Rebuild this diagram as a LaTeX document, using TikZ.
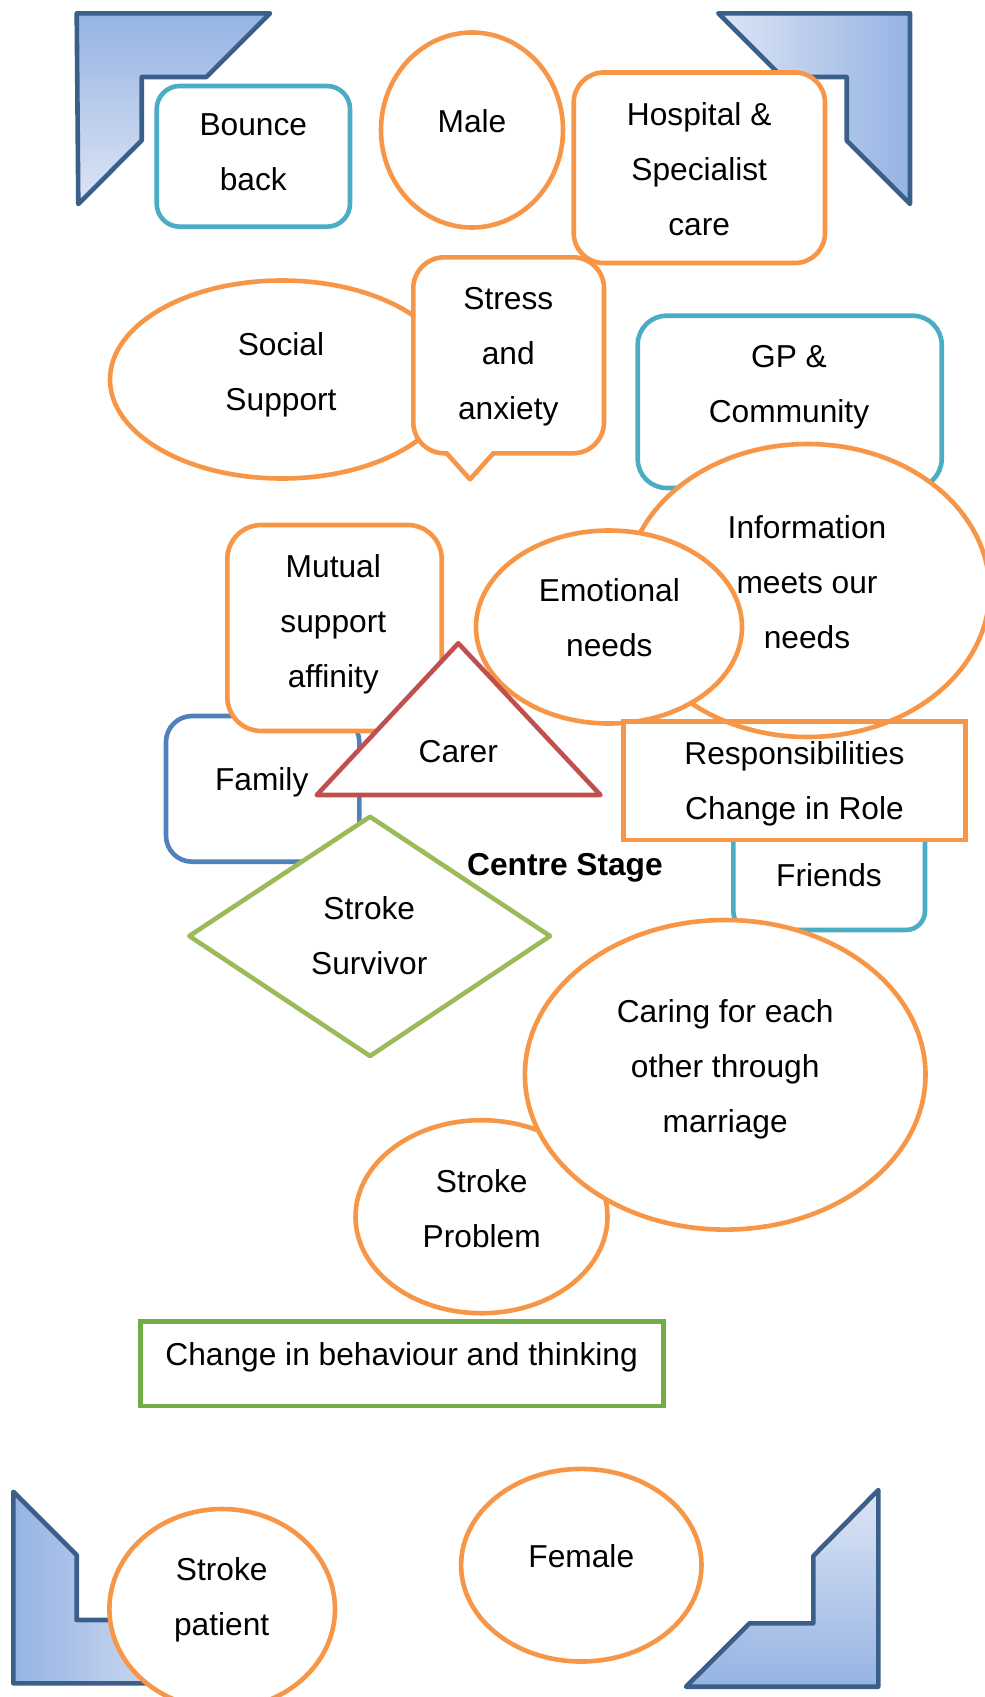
\documentclass[tikz,border=0pt]{standalone}
\usepackage{fontspec}
\setmainfont{Liberation Sans}
\usetikzlibrary{shapes.geometric}
\definecolor{orng}{HTML}{F79646}
\definecolor{teal}{HTML}{4BACC6}
\definecolor{blu}{HTML}{4F81BD}
\definecolor{redd}{HTML}{C0504D}
\definecolor{grn}{HTML}{9BBB59}
\definecolor{grntwo}{HTML}{72AD47}
\definecolor{cornerblue}{HTML}{3A5F8B}
\definecolor{gdark}{RGB}{149,179,227}
\definecolor{glight}{RGB}{221,229,244}
\begin{document}
\begin{tikzpicture}[x=1pt,y=-1pt,
  shp/.style={line width=4.6pt, fill=white, inner sep=0pt, outer sep=0pt},
  ell/.style={shp, ellipse},
  rbox/.style={shp, rectangle, rounded corners=#1},
  cornershape/.style={draw=cornerblue, line width=4.6pt, line join=round},
  txt/.style={font=\fontsize{31.7}{55}\selectfont, align=center, inner sep=0pt},
]
\useasboundingbox (0,0) rectangle (985,1697);

% corner shapes (top)
\path[cornershape, top color=gdark, bottom color=glight]
  (76.7,13.3) -- (270,13.3) -- (206.3,77) -- (141.7,77) -- (141.7,140.5) -- (78.3,204) -- cycle;
\path[cornershape, left color=glight, right color=gdark]
  (718.3,13.3) -- (910,13.3) -- (910,204) -- (846.7,140.5) -- (846.7,77) -- (782,77) -- cycle;

% top row
\node[ell, draw=orng, minimum width=182pt, minimum height=195pt] (male) at (472,130) {};
\node[txt] (male-t) at (472,121.2) {Male};
\node[rbox=23pt, draw=teal, minimum width=193.3pt, minimum height=140.7pt] (bounce) at (253.35,156.35) {};
\node[txt] (bounce-t) at (253.3,152.5) {Bounce\\back};
\node[rbox=30pt, draw=orng, minimum width=251.3pt, minimum height=190.5pt] (hosp) at (699.35,167.75) {};
\node[txt] (hosp-t) at (699.2,169.4) {Hospital \&\\Specialist\\care};

% social support and stress callout
\node[ell, draw=orng, minimum width=344pt, minimum height=198pt] (social) at (282,379.5) {};
\node[txt] (social-t) at (281,374.3) {Social\\Support};
\node[rbox=31pt, draw=orng, minimum width=190.7pt, minimum height=196pt] (stress) at (508.65,355.3) {};
\fill[white] (447.8,449) rectangle (492.2,457.5);
\coordinate (tailL) at (446.7,453.3);
\coordinate (tailT) at (470,479.3);
\coordinate (tailR) at (493.3,453.3);
\fill[white] (tailL) -- (tailT) -- (tailR) -- cycle;
\draw[orng, line width=4.6pt, line join=round] (tailL) -- (tailT) -- (tailR);
\node[txt] (stress-t) at (508.3,356.7) {Stress\\and\\anxiety};

% GP, information, emotional
\node[rbox=29pt, draw=teal, minimum width=304pt, minimum height=172.3pt] (gp) at (789.7,401.85) {};
\node[txt] (gp-t) at (789,387) {GP \&\\Community};
\node[ell, draw=orng, minimum width=364pt, minimum height=293pt] (info) at (807.5,590.5) {};
\node[txt] (info-t) at (807,582.5) {Information\\meets our\\needs};
\node[ell, draw=orng, minimum width=266pt, minimum height=193pt] (emo) at (609,627) {};
\node[txt] (emo-t) at (609.4,618) {Emotional\\needs};

% family, mutual, carer
\node[rbox=26pt, draw=blu, minimum width=193.3pt, minimum height=145.7pt] (family) at (262.65,788.85) {};
\node[txt] (family-t) at (261.7,782) {Family};
\node[rbox=34pt, draw=orng, minimum width=214.4pt, minimum height=206pt] (mutual) at (334.5,628) {};
\node[txt] (mutual-t) at (333.3,624.5) {Mutual\\support\\affinity};
\coordinate (carerA) at (458.3,643.3);
\coordinate (carerR) at (600.5,795);
\coordinate (carerL) at (316.7,795);
\filldraw[draw=redd, fill=white, line width=4.6pt, line join=round] (carerA) -- (carerR) -- (carerL) -- cycle;
\node[txt] (carer-t) at (458.3,751.7) {Carer};

% stroke survivor diamond
\coordinate (diaT) at (370,816.7);
\coordinate (diaR) at (550,936);
\coordinate (diaB) at (370,1056);
\coordinate (diaL) at (189.3,936);
\filldraw[draw=grn, fill=white, line width=4.6pt, line join=round] (diaT) -- (diaR) -- (diaB) -- (diaL) -- cycle;
\node[txt] (surv-t) at (369.3,935.8) {Stroke\\Survivor};

% friends and responsibilities
\node[rbox=19pt, draw=teal, minimum width=191.7pt, minimum height=112pt] (friends) at (829.15,874) {};
\node[txt] (friends-t) at (829,875.3) {Friends};
\node[shp, rectangle, draw=orng, minimum width=342.4pt, minimum height=118.3pt] (resp) at (794.5,780.85) {};
\begin{scope}
  \clip (resp.north west) rectangle (resp.south east);
  \draw[orng, line width=4.6pt] (info.center) ellipse [x radius=182pt, y radius=146.5pt];
\end{scope}
\draw[orng, line width=4.6pt] (resp.north west) rectangle (resp.south east);
\node[txt] (resp-t) at (794.5,783.8) {Responsibilities\\Change in Role};

\node[txt, font=\fontsize{31.7}{55}\selectfont\bfseries] (centre) at (565,868) {Centre Stage};

% stroke problem and caring
\node[ell, draw=orng, minimum width=252pt, minimum height=193pt] (sprob) at (481.5,1216.7) {};
\node[txt] (sprob-t) at (481.7,1208.5) {Stroke\\Problem};
\node[ell, draw=orng, minimum width=400.6pt, minimum height=309.6pt] (caring) at (725.2,1074.8) {};
\node[txt] (caring-t) at (725.2,1069.2) {Caring for each\\other through\\marriage};

% change in behaviour
\node[shp, rectangle, draw=grntwo, minimum width=522.8pt, minimum height=84.4pt] (change) at (402.1,1363.8) {};
\node[txt] (change-t) at (401.6,1357) {Change in behaviour and thinking};

% bottom corner shapes
\path[cornershape, left color=gdark, right color=glight]
  (13.3,1491.7) -- (76.7,1555) -- (76.7,1620) -- (141.5,1620) -- (205,1683.3) -- (13.3,1683.3) -- cycle;
\path[cornershape, top color=glight, bottom color=gdark]
  (878.3,1490) -- (878.3,1686.7) -- (686,1686.7) -- (749.5,1623.3) -- (813.3,1623.3) -- (813.3,1556) -- cycle;

% bottom ellipses
\node[ell, draw=orng, minimum width=240.4pt, minimum height=192.6pt] (female) at (581.3,1565.2) {};
\node[txt] (female-t) at (581.3,1556.5) {Female};
\node[ell, draw=orng, minimum width=225.6pt, minimum height=200pt] (spat) at (222.2,1609) {};
\node[txt] (spat-t) at (221.7,1600) {Stroke\\patient};
\end{tikzpicture}
\end{document}
